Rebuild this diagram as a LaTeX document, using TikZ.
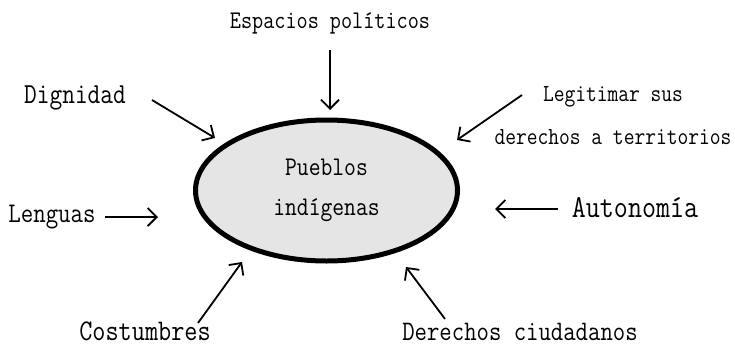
\documentclass[tikz,border=0pt]{standalone}
\usepackage{fontspec}
\setmonofont[FakeStretch=0.85]{Latin Modern Mono}
\usetikzlibrary{arrows.meta, shapes.geometric}
\tikzset{
  etiqueta/.style={font=\ttfamily, anchor=base, inner sep=0pt},
  nucleo/.style={ellipse,draw,line width=5pt,fill=gray!20,minimum width=262pt,minimum height=141pt,inner sep=0pt,align=center},
  flecha/.style={-{Straight Barb[length=9pt,width=18pt]}, line width=1.8pt}
}
\newcommand{\tam}[2]{\fontsize{#1}{#2}\selectfont}

\begin{document}
\begin{tikzpicture}[x=1pt, y=-1pt]
\useasboundingbox (0,0) rectangle (735,348);
\node[nucleo, font=\ttfamily\tam{27}{40}] (pueblos) at (326.5,190.5) {Pueblos\\ind\'igenas};
\node[etiqueta, font=\ttfamily\tam{25.4}{28}] (espacios) at (330,28) {Espacios pol\'iticos};
\node[etiqueta, font=\ttfamily\tam{29}{30}] (dignidad) at (75,103) {Dignidad};
\node[etiqueta, font=\ttfamily\tam{28.5}{30}] (lenguas) at (52,222) {Lenguas};
\node[etiqueta, anchor=center, align=center, font=\ttfamily\tam{24.6}{43}] (legitimar) at (613,116) {Legitimar sus\\derechos a territorios};
\node[etiqueta, font=\ttfamily\tam{32}{32}] (autonomia) at (635,217) {Autonom\'ia};
\node[etiqueta, font=\ttfamily\tam{30}{30}] (costumbres) at (145,340) {Costumbres};
\node[etiqueta, font=\ttfamily\tam{28.3}{30}] (derechos) at (520,340) {Derechos ciudadanos};
% extremos de las flechas
\coordinate (e1) at (330,50);  \coordinate (e2) at (330,110);
\coordinate (d1) at (152,100); \coordinate (d2) at (215,138);
\coordinate (l1) at (105,217); \coordinate (l2) at (158,217);
\coordinate (t1) at (522,95);  \coordinate (t2) at (457,140);
\coordinate (a1) at (558,209); \coordinate (a2) at (495,209);
\coordinate (c1) at (198,323); \coordinate (c2) at (242,262);
\coordinate (r1) at (445,319); \coordinate (r2) at (406,267);
\draw[flecha] (e1) -- (e2);
\draw[flecha] (d1) -- (d2);
\draw[flecha] (l1) -- (l2);
\draw[flecha] (t1) -- (t2);
\draw[flecha] (a1) -- (a2);
\draw[flecha] (c1) -- (c2);
\draw[flecha] (r1) -- (r2);
\end{tikzpicture}
\end{document}
